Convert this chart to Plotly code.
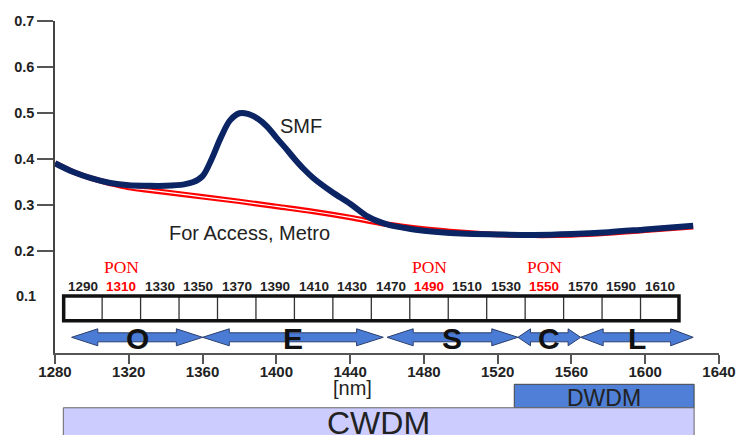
import plotly.graph_objects as go

# ---------------- data ----------------
wl_smf = [1280, 1290, 1300, 1310, 1320, 1330, 1340, 1350, 1355, 1360, 1365, 1370, 1375,
          1380, 1385, 1390, 1395, 1400, 1405, 1410, 1415, 1420, 1430, 1440, 1450, 1460,
          1470, 1480, 1500, 1520, 1540, 1560, 1580, 1600, 1626]
att_smf = [0.390, 0.371, 0.357, 0.347, 0.342, 0.341, 0.341, 0.344, 0.349, 0.362, 0.400,
           0.447, 0.484, 0.499, 0.497, 0.487, 0.470, 0.446, 0.423, 0.399, 0.377, 0.358,
           0.328, 0.302, 0.273, 0.257, 0.249, 0.243, 0.237, 0.235, 0.234, 0.236, 0.240,
           0.246, 0.254]

wl_access = [1280, 1290, 1300, 1310, 1320, 1330, 1340, 1360, 1380, 1400, 1420, 1440,
             1460, 1480, 1500, 1520, 1540, 1560, 1580, 1600, 1626]
att_access = [0.390, 0.371, 0.357, 0.346, 0.337, 0.332, 0.327, 0.317, 0.307, 0.296,
              0.285, 0.272, 0.257, 0.247, 0.240, 0.235, 0.233, 0.234, 0.238, 0.244, 0.252]

channels = [1290, 1310, 1330, 1350, 1370, 1390, 1410, 1430, 1470, 1490, 1510, 1530,
            1550, 1570, 1590, 1610]
pon_channels = [1310, 1490, 1550]

bands = ["O", "E", "S", "C", "L"]
band_start = [1289, 1360, 1460, 1531, 1565]
band_end = [1360, 1458, 1531, 1565, 1626]

dwdm_span = [1529, 1626.5]
cwdm_span = [1284.5, 1626.5]

x_ticks = [1280, 1320, 1360, 1400, 1440, 1480, 1520, 1560, 1600, 1640]
y_ticks = [0.2, 0.3, 0.4, 0.5, 0.6, 0.7]
y_extra_label = 0.1

# ---------------- styling constants ----------------
SANS = "Liberation Sans, Arial, sans-serif"
SERIF = "Liberation Serif, Times New Roman, serif"
TXT = "#222222"
NAVY = "#0b2463"
RED = "#ff0000"
BLUE = "#4a7cd6"

grid_left, grid_right = 1284.7, 1618.3
grid_y0, grid_y1 = 0.047, 0.101
arrow_yc, shaft_h, head_h = 0.0109, 0.0098, 0.0185

fig = go.Figure()

# red "For Access, Metro" double line
fig.add_trace(go.Scatter(x=wl_access, y=att_access, mode="lines",
                         line=dict(color=RED, width=5.5, shape="spline"),
                         hoverinfo="skip", showlegend=False))
fig.add_trace(go.Scatter(x=wl_access, y=att_access, mode="lines",
                         line=dict(color="white", width=1.2, shape="spline"),
                         hoverinfo="skip", showlegend=False))
# SMF
fig.add_trace(go.Scatter(x=wl_smf, y=att_smf, mode="lines",
                         line=dict(color=NAVY, width=6, shape="spline"),
                         hoverinfo="skip", showlegend=False))

# band arrows
for b, s, e in zip(bands, band_start, band_end):
    span = e - s
    h = min(14.5, 0.2 * span)
    xs = [s, s + h, s + h, e - h, e - h, e, e - h, e - h, s + h, s + h, s]
    ys = [arrow_yc, arrow_yc + head_h, arrow_yc + shaft_h, arrow_yc + shaft_h,
          arrow_yc + head_h, arrow_yc, arrow_yc - head_h, arrow_yc - shaft_h,
          arrow_yc - shaft_h, arrow_yc - head_h, arrow_yc]
    fig.add_trace(go.Scatter(x=xs, y=ys, mode="lines", fill="toself",
                             fillcolor=BLUE, line=dict(color="#2b3f6e", width=1),
                             hoverinfo="skip", showlegend=False))

shapes = []
# channel grid
n = len(channels)
cw = (grid_right - grid_left) / n
for i in range(1, n):
    xe = grid_left + i * cw
    shapes.append(dict(type="line", xref="x", yref="y", x0=xe, x1=xe,
                       y0=grid_y0, y1=grid_y1, line=dict(color="#333333", width=1.3)))
shapes.append(dict(type="rect", xref="x", yref="y", x0=grid_left, x1=grid_right,
                   y0=grid_y0, y1=grid_y1, line=dict(color="#111111", width=3.5)))

# DWDM / CWDM boxes below axis
shapes.append(dict(type="rect", xref="x", yref="paper", x0=dwdm_span[0], x1=dwdm_span[1],
                   y0=-0.165, y1=-0.0943, fillcolor="#4f7fd6",
                   line=dict(color="#444444", width=1), layer="above"))
shapes.append(dict(type="rect", xref="x", yref="paper", x0=cwdm_span[0], x1=cwdm_span[1],
                   y0=-0.30, y1=-0.165, fillcolor="#ccccff",
                   line=dict(color="#666666", width=1), layer="above"))

annotations = []
for i, ch in enumerate(channels):
    xc = grid_left + (i + 0.5) * cw
    is_pon = ch in pon_channels
    annotations.append(dict(x=xc, y=0.121, xref="x", yref="y", text=str(ch),
                            showarrow=False,
                            font=dict(family=SANS, size=13.5, weight="bold",
                                      color=RED if is_pon else TXT)))
    if is_pon:
        annotations.append(dict(x=xc, y=0.164, xref="x", yref="y", text="PON",
                                showarrow=False,
                                font=dict(family=SERIF, size=17.5, color=RED)))

for b, s, e in zip(bands, band_start, band_end):
    annotations.append(dict(x=(s + e) / 2, y=0.0087, xref="x", yref="y", text=b,
                            showarrow=False,
                            font=dict(family=SANS, size=30, weight="bold", color="#111111")))

annotations += [
    dict(x=1413.6, y=0.472, xref="x", yref="y", text="SMF", showarrow=False,
         font=dict(family=SANS, size=20, color=TXT)),
    dict(x=1385.6, y=0.238, xref="x", yref="y", text="For Access, Metro", showarrow=False,
         font=dict(family=SANS, size=20, color=TXT)),
    dict(x=1441.4, y=-0.1054, xref="x", yref="paper", text="[nm]", showarrow=False,
         xanchor="center", yanchor="middle",
         font=dict(family=SANS, size=20, color=TXT)),
    dict(x=sum(dwdm_span) / 2, y=-0.1364, xref="x", yref="paper", text="DWDM",
         xanchor="center", yanchor="middle",
         showarrow=False, font=dict(family=SANS, size=23, color=TXT)),
    dict(x=sum(cwdm_span) / 2, y=-0.211, xref="x", yref="paper", text="CWDM",
         xanchor="center", yanchor="middle",
         showarrow=False, font=dict(family=SANS, size=32, color=TXT)),
    dict(x=0, y=y_extra_label, xref="paper", yref="y", text=str(y_extra_label),
         xanchor="right", yanchor="middle", xshift=-17, showarrow=False,
         font=dict(family=SANS, size=14.5, weight="bold", color=TXT)),
]

# the page body has an 8px default margin, so the figure is sized/offset to compensate
fig.update_layout(
    width=738, height=427,
    margin=dict(l=47, r=27, t=13, b=82),
    paper_bgcolor="white", plot_bgcolor="white",
    showlegend=False,
    shapes=shapes, annotations=annotations,
    xaxis=dict(range=[1280, 1640], tickvals=x_ticks, showgrid=False, zeroline=False,
               automargin=False, ticklabelstandoff=-5,
               showline=True, linecolor="#555555", linewidth=1.5,
               ticks="outside", ticklen=9, tickwidth=1.5, tickcolor="#555555",
               tickfont=dict(family=SANS, size=15, weight="bold", color=TXT)),
    yaxis=dict(range=[-0.0233, 0.7], tickvals=y_ticks, ticktext=[str(v) for v in y_ticks],
               showgrid=False, zeroline=False, automargin=False,
               showline=True, linecolor="#444444", linewidth=1.5,
               ticks="outside", ticklen=16, tickwidth=1.5, tickcolor="#555555",
               tickfont=dict(family=SANS, size=14.5, weight="bold", color=TXT)),
)

fig.write_html("out.html")
